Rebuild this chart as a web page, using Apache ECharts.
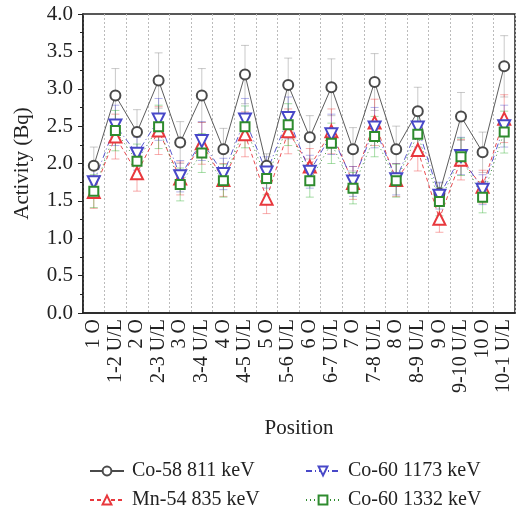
<!DOCTYPE html>
<html>
<head>
<meta charset="utf-8">
<script src="https://cdn.jsdelivr.net/npm/echarts@6/dist/echarts.min.js"></script>
<style>
  html, body { margin: 0; padding: 0; background: #fff; }
  #chart { width: 519px; height: 509px; }
</style>
</head>
<body>
<div id="chart"></div>
<script>
// positions along the x axis
var positions = ['1 O', '1-2 U/L', '2 O', '2-3 U/L', '3 O', '3-4 U/L', '4 O', '4-5 U/L', '5 O', '5-6 U/L',
  '6 O', '6-7 U/L', '7 O', '7-8 U/L', '8 O', '8-9 U/L', '9 O', '9-10 U/L', '10 O', '10-1 U/L']

// activity values (Bq)
var co58 = [1.97, 2.91, 2.42, 3.11, 2.28, 2.91, 2.19, 3.19, 1.97, 3.05, 2.35, 3.02, 2.19, 3.09, 2.19, 2.70, 1.60, 2.63, 2.15, 3.30]
var mn54 = [1.62, 2.36, 1.87, 2.44, 1.80, 2.27, 1.78, 2.39, 1.53, 2.43, 1.96, 2.43, 1.74, 2.55, 1.78, 2.18, 1.26, 2.05, 1.69, 2.60]
var co60a = [1.75, 2.51, 2.13, 2.59, 1.83, 2.30, 1.86, 2.59, 1.88, 2.61, 1.89, 2.39, 1.76, 2.48, 1.79, 2.48, 1.57, 2.10, 1.65, 2.50]
var co60b = [1.63, 2.44, 2.03, 2.49, 1.72, 2.14, 1.77, 2.49, 1.80, 2.52, 1.77, 2.27, 1.67, 2.36, 1.77, 2.39, 1.49, 2.09, 1.55, 2.42]

// uncertainties (Bq)
var co58Err = [0.25, 0.36, 0.30, 0.37, 0.28, 0.36, 0.28, 0.39, 0.16, 0.36, 0.29, 0.38, 0.29, 0.38, 0.31, 0.32, 0.14, 0.32, 0.27, 0.41]
var mn54Err = [0.22, 0.30, 0.24, 0.32, 0.22, 0.28, 0.22, 0.30, 0.20, 0.30, 0.24, 0.30, 0.22, 0.31, 0.22, 0.28, 0.18, 0.27, 0.22, 0.32]
var co60aErr = [0.20, 0.27, 0.22, 0.28, 0.21, 0.26, 0.21, 0.28, 0.21, 0.28, 0.22, 0.27, 0.20, 0.27, 0.21, 0.26, 0.18, 0.25, 0.20, 0.28]
var co60bErr = [0.22, 0.27, 0.23, 0.29, 0.22, 0.26, 0.22, 0.28, 0.22, 0.28, 0.22, 0.27, 0.21, 0.27, 0.22, 0.27, 0.19, 0.25, 0.21, 0.28]

var yTicks = ['0.0', '0.5', '1.0', '1.5', '2.0', '2.5', '3.0', '3.5', '4.0']

var serif = 'Liberation Serif'

function errData(vals, errs) {
  return vals.map(function(v, i) { return [i, v - errs[i], v + errs[i]] })
}

function errSeries(name, vals, errs, color) {
  return {
    name: name,
    type: 'custom',
    z: 1,
    silent: true,
    data: errData(vals, errs),
    encode: { x: 0, y: [1, 2] },
    renderItem: function(params, api) {
      var i = api.value(0)
      var lo = api.coord([i, api.value(1)])
      var hi = api.coord([i, api.value(2)])
      var w = 4
      var style = { stroke: color, lineWidth: 0.8, opacity: 0.5 }
      return {
        type: 'group',
        children: [
          { type: 'line', shape: { x1: lo[0], y1: lo[1], x2: hi[0], y2: hi[1] }, style: style },
          { type: 'line', shape: { x1: lo[0] - w, y1: lo[1], x2: lo[0] + w, y2: lo[1] }, style: style },
          { type: 'line', shape: { x1: hi[0] - w, y1: hi[1], x2: hi[0] + w, y2: hi[1] }, style: style }
        ]
      }
    }
  }
}

function lineSeries(name, vals, color, lineType, symbol, size, rotate) {
  return {
    name: name,
    type: 'line',
    z: 3,
    data: vals,
    symbol: symbol,
    symbolSize: size,
    symbolRotate: rotate || 0,
    showAllSymbol: true,
    lineStyle: { color: color, width: 0.9, type: lineType },
    itemStyle: { color: color, borderColor: color, borderWidth: 0.8 },
    animation: false
  }
}

function legendItem(name, left, top) {
  return {
    left: left,
    top: top,
    itemWidth: 34,
    itemHeight: 11,
    textStyle: { fontFamily: serif, fontSize: 20, color: '#222', padding: [0, 0, 0, 3] },
    data: [name]
  }
}

var chart = echarts.init(document.getElementById('chart'))
chart.setOption({
  animation: false,
  grid: {
    left: 83,
    right: 4,
    top: 14,
    bottom: 196,
    show: true,
    borderColor: '#222',
    borderWidth: 1.5
  },
  legend: [
    legendItem('Co-58 811 keV', 84, 456),
    legendItem('Mn-54 835 keV', 84, 485),
    legendItem('Co-60 1173 keV', 300, 456),
    legendItem('Co-60 1332 keV', 300, 485)
  ],
  xAxis: {
    type: 'category',
    data: positions,
    name: 'Position',
    nameLocation: 'middle',
    nameGap: 105,
    nameTextStyle: { fontFamily: serif, fontSize: 21, color: '#222' },
    axisLine: { lineStyle: { color: '#222', width: 1.5 } },
    axisTick: { alignWithLabel: true, length: 5, lineStyle: { color: '#222' } },
    axisLabel: { rotate: 90, fontFamily: serif, fontSize: 20, color: '#222', margin: 6, interval: 0 },
    splitLine: { show: true, interval: 0, lineStyle: { color: '#bbb', type: [2, 2], width: 1 } }
  },
  yAxis: {
    type: 'value',
    min: 0,
    max: 4,
    interval: 0.5,
    name: 'Activity (Bq)',
    nameLocation: 'middle',
    nameGap: 50,
    nameTextStyle: { fontFamily: serif, fontSize: 21, color: '#222' },
    axisLine: { show: true, lineStyle: { color: '#222', width: 1.5 } },
    axisTick: { show: true, length: 5, lineStyle: { color: '#222' } },
    minorTick: { show: true, splitNumber: 2, length: 3, lineStyle: { color: '#222' } },
    axisLabel: {
      fontFamily: serif, fontSize: 21, color: '#222', margin: 10,
      formatter: function(v) { return yTicks[Math.round(v / 0.5)] }
    },
    splitLine: { show: false }
  },
  series: [
    errSeries('err-co58', co58, co58Err, '#777'),
    errSeries('err-mn54', mn54, mn54Err, '#e33'),
    errSeries('err-co60a', co60a, co60aErr, '#44c'),
    errSeries('err-co60b', co60b, co60bErr, '#2a2'),
    lineSeries('Co-58 811 keV', co58, '#4a4a4a', 'solid', 'emptyCircle', 10),
    lineSeries('Mn-54 835 keV', mn54, '#e8383d', [4, 3], 'emptyTriangle', 12),
    lineSeries('Co-60 1173 keV', co60a, '#4848c8', [6, 3, 1, 3], 'emptyTriangle', 12, 180),
    lineSeries('Co-60 1332 keV', co60b, '#2e8b2e', [1, 3], 'emptyRect', 9)
  ]
})
</script>
</body>
</html>
